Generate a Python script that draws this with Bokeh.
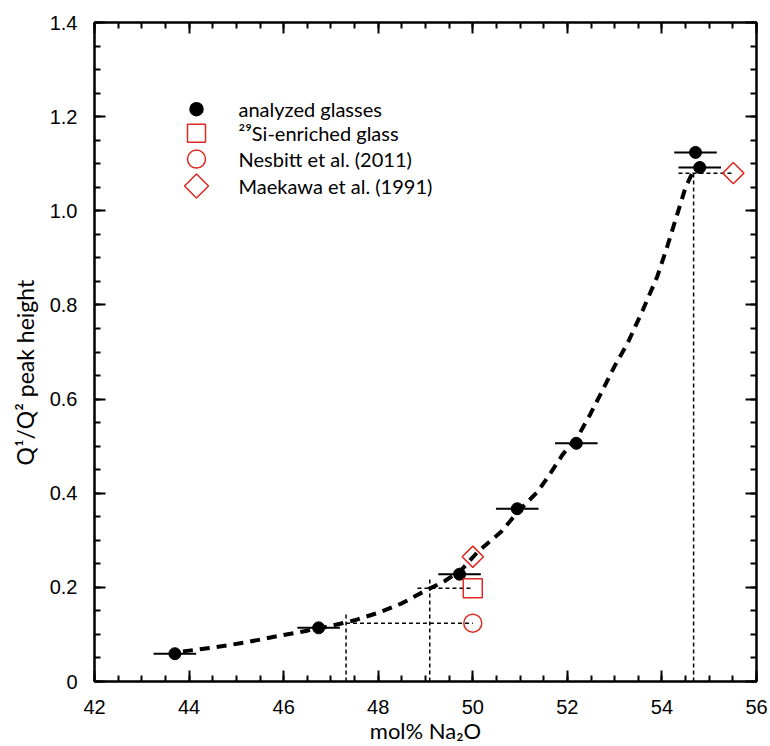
import numpy as np
from bokeh.plotting import figure
from bokeh.models import (Range1d, LinearAxis, FixedTicker, Title)
from bokeh.core.properties import value
from bokeh.embed import file_html
from bokeh.resources import INLINE

# ---- data ----
glass_x = [43.70, 46.74, 49.72, 50.94, 52.19, 54.71, 54.80]
glass_y = [0.059, 0.114, 0.228, 0.367, 0.506, 1.124, 1.092]
glass_xerr = [0.45, 0.45, 0.45, 0.45, 0.45, 0.45, 0.45]

si29_x = [50.0]
si29_y = [0.198]

nesbitt_x = [50.0]
nesbitt_y = [0.124]

maekawa_x = [50.0, 55.51]
maekawa_y = [0.265, 1.080]

fit_x = [43.87, 44.5, 45.2, 45.9, 46.5, 47.0, 47.5, 48.0, 48.5, 49.0, 49.4, 49.75,
         50.1, 50.6, 50.95, 51.36, 51.58, 51.9, 52.23, 52.47, 52.72, 53.0, 53.28,
         53.6, 53.9, 54.1, 54.3, 54.5, 54.68]
fit_y = [0.064, 0.072, 0.083, 0.097, 0.108, 0.118, 0.130, 0.146, 0.166, 0.193, 0.213, 0.236,
         0.275, 0.318, 0.360, 0.402, 0.433, 0.482, 0.522, 0.565, 0.614, 0.670, 0.720,
         0.790, 0.860, 0.920, 0.985, 1.050, 1.088]

# guide lines (vertical drops and horizontal reads)
guide_vx = [47.32, 49.09, 54.67]
guide_vy0 = [0.0, 0.0, 0.0]
guide_vy1 = [0.145, 0.218, 1.085]
guide_hy = [0.124, 0.198, 1.080]
guide_hx0 = [47.17, 48.83, 54.35]
guide_hx1 = [50.0, 50.0, 55.51]

x_ticks = [42, 44, 46, 48, 50, 52, 54, 56]
x_tick_labels = ["42", "44", "46", "48", "50", "52", "54", "56"]
y_ticks = [0.0, 0.2, 0.4, 0.6, 0.8, 1.0, 1.2, 1.4]
y_tick_labels = ["0", "0.2", "0.4", "0.6", "0.8", "1.0", "1.2", "1.4"]
x_minor_step = 0.5
y_minor_step = 0.05

x_title = "mol% Na\u2082O"
y_title = "Q\u00b9/Q\u00b2 peak height"
legend_labels = ["analyzed glasses", "\u00b2\u2079Si-enriched glass",
                 "Nesbitt et al. (2011)", "Maekawa et al. (1991)"]

# ---- styling / layout ----
RED = "#dc2a22"
TICK_FONT = "Liberation Sans"
LABEL_FONT = "Lato"
FRAME_W, FRAME_H = 662, 661

x_minor = list(np.arange(x_ticks[0], x_ticks[-1] + 1e-9, x_minor_step))
y_minor = [round(v, 3) for v in np.arange(y_ticks[0], y_ticks[-1] + 1e-9, y_minor_step)]

p = figure(width=770, height=746,
           x_range=Range1d(x_ticks[0], x_ticks[-1]),
           y_range=Range1d(y_ticks[0], y_ticks[-1]),
           output_backend="svg", toolbar_location=None,
           min_border_left=94, min_border_right=14,
           min_border_top=22, min_border_bottom=63)
p.xgrid.visible = False
p.ygrid.visible = False
p.outline_line_color = "black"
p.outline_line_width = 2
p.background_fill_color = "white"
p.border_fill_color = "white"

# legend coordinate system in frame pixels (origin at frame top-left)
p.extra_x_ranges = {"pix": Range1d(0, FRAME_W)}
p.extra_y_ranges = {"pix": Range1d(FRAME_H, 0)}


def style_axis(ax, ticks, minor, labels):
    ax.ticker = FixedTicker(ticks=ticks, minor_ticks=minor)
    ax.axis_line_width = 2
    ax.axis_line_color = "black"
    ax.major_tick_in = 11
    ax.major_tick_out = 0
    ax.minor_tick_in = 6
    ax.minor_tick_out = 0
    ax.major_tick_line_width = 2
    ax.minor_tick_line_width = 2
    ax.major_tick_line_color = "black"
    ax.minor_tick_line_color = "black"
    if labels is not None:
        ax.major_label_overrides = {t: l for t, l in zip(ticks, labels)}
        ax.major_label_text_font = TICK_FONT
        ax.major_label_text_font_size = "20px"
        ax.major_label_text_color = "black"
        ax.axis_label_text_font = LABEL_FONT
        ax.axis_label_text_font_style = "normal"
        ax.axis_label_text_color = "black"
    else:
        ax.major_label_text_font_size = "0px"
        ax.major_label_text_color = None
        ax.major_label_standoff = 0
        ax.axis_label_standoff = 0


xa = p.xaxis[0]
ya = p.yaxis[0]
style_axis(xa, x_ticks, x_minor, x_tick_labels)
style_axis(ya, y_ticks, y_minor, y_tick_labels)
xa.axis_label = x_title
xa.axis_label_text_font_size = "22px"
xa.major_label_standoff = 18
xa.axis_label_standoff = 0
ya.major_label_standoff = 17
ya.axis_label_standoff = 0

top_ax = LinearAxis()
style_axis(top_ax, x_ticks, x_minor, None)
p.add_layout(top_ax, "above")
right_ax = LinearAxis()
style_axis(right_ax, y_ticks, y_minor, None)
p.add_layout(right_ax, "right")

ytitle = Title(text=y_title, align="left", offset=216, standoff=15,
               text_font=LABEL_FONT, text_font_size="23px",
               text_font_style="normal", text_color="black")
p.add_layout(ytitle, "left")

# guide lines
p.segment(x0=guide_vx, y0=guide_vy0, x1=guide_vx, y1=guide_vy1,
          line_color="black", line_width=1.5, line_dash="4 3")
p.segment(x0=guide_hx0, y0=guide_hy, x1=guide_hx1, y1=guide_hy,
          line_color="black", line_width=1.5, line_dash="4 3")

# fitted curve
p.line(fit_x, fit_y, line_color="black", line_width=4, line_dash="10 7")

# error bars
gx = np.array(glass_x)
ge = np.array(glass_xerr)
p.segment(x0=gx - ge, y0=glass_y, x1=gx + ge, y1=glass_y,
          line_color="black", line_width=2)

p.scatter(glass_x, glass_y, marker="circle", size=12,
          fill_color="black", line_color="black")
p.scatter(si29_x, si29_y, marker="square", size=19,
          fill_color=None, line_color=RED, line_width=1.5)
p.scatter(nesbitt_x, nesbitt_y, marker="circle", size=18,
          fill_color=None, line_color=RED, line_width=1.5)
p.scatter(maekawa_x, maekawa_y, marker="square", size=15, angle=np.pi / 4,
          fill_color=None, line_color=RED, line_width=1.5)

# ---- legend (drawn in frame-pixel coordinates) ----
leg_mx = 102
leg_tx = 144
leg_rows = [87, 111, 137, 164]
leg_markers = ["circle", "square", "circle", "square"]
leg_sizes = [13, 18, 18, 17]
leg_angles = [0, 0, 0, np.pi / 4]
leg_fill = ["black", None, None, None]
leg_line = ["black", RED, RED, RED]
for i in range(4):
    p.scatter([leg_mx], [leg_rows[i]], marker=leg_markers[i], size=leg_sizes[i],
              angle=leg_angles[i], fill_color=leg_fill[i], line_color=leg_line[i],
              line_width=1.5, x_range_name="pix", y_range_name="pix")
p.text(x=[leg_tx] * 4, y=leg_rows, text=legend_labels,
       text_font=value(LABEL_FONT), text_font_size="20px", text_color="black",
       text_baseline="middle", text_align="left",
       x_range_name="pix", y_range_name="pix")

open("out.html", "w").write(file_html(p, INLINE))
